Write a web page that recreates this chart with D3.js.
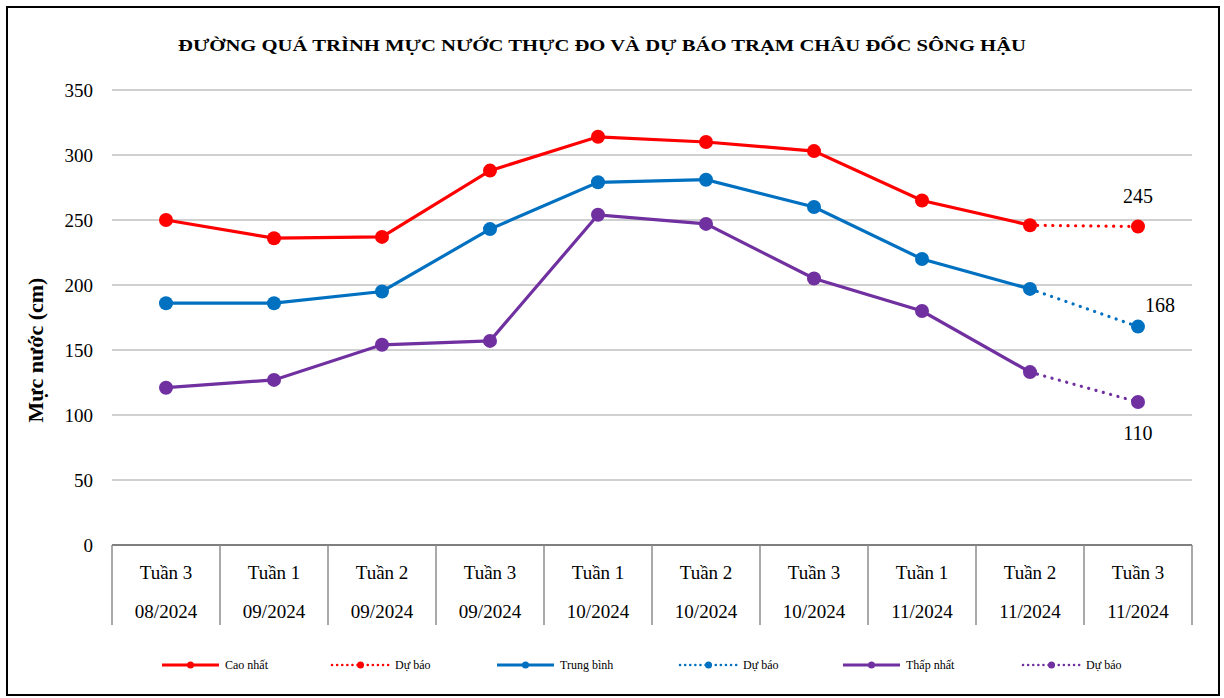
<!DOCTYPE html>
<html>
<head>
<meta charset="utf-8">
<script src="https://cdn.jsdelivr.net/npm/d3@7"></script>
<style>
  body { margin: 0; background: #fff; }
  svg text { font-family: "Liberation Serif", "Times New Roman", serif; fill: #000; }
</style>
</head>
<body>
<div id="chart"></div>
<script>
// data
var weeks = ["Tuần 3", "Tuần 1", "Tuần 2", "Tuần 3", "Tuần 1", "Tuần 2", "Tuần 3", "Tuần 1", "Tuần 2", "Tuần 3"];
var months = ["08/2024", "09/2024", "09/2024", "09/2024", "10/2024", "10/2024", "10/2024", "11/2024", "11/2024", "11/2024"];
var caoNhat = [250, 236, 237, 288, 314, 310, 303, 265, 246];
var trungBinh = [186, 186, 195, 243, 279, 281, 260, 220, 197];
var thapNhat = [121, 127, 154, 157, 254, 247, 205, 180, 133];
var duBaoCao = 245, duBaoTB = 168, duBaoThap = 110;
var yTicks = [0, 50, 100, 150, 200, 250, 300, 350];

(function () {
var W = 1224, H = 698;
var plotLeft = 112, plotRight = 1192, plotTop = 90, plotBottom = 545;

var svg = d3.select("#chart").append("svg")
    .attr("width", W)
    .attr("height", H);

// outer frame
svg.append("rect")
    .attr("x", 7).attr("y", 7)
    .attr("width", 1212).attr("height", 688)
    .attr("fill", "none")
    .attr("stroke", "#000")
    .attr("stroke-width", 2);

var x = d3.scaleBand()
    .domain(d3.range(weeks.length))
    .range([plotLeft, plotRight]);

var y = d3.scaleLinear()
    .domain([0, 350])
    .range([plotBottom, plotTop]);

var cx = function(i) { return x(i) + x.bandwidth() / 2; };

// title
svg.append("text")
    .attr("x", 602)
    .attr("y", 51)
    .attr("text-anchor", "middle")
    .attr("font-weight", "bold")
    .attr("font-size", 17)
    .attr("textLength", 848)
    .attr("lengthAdjust", "spacingAndGlyphs")
    .text("ĐƯỜNG QUÁ TRÌNH MỰC NƯỚC THỰC ĐO VÀ DỰ BÁO TRẠM CHÂU  ĐỐC SÔNG HẬU");

// gridlines
svg.append("g").selectAll("line")
    .data(yTicks.filter(function(d) { return d > 0; }))
    .enter().append("line")
    .attr("x1", plotLeft).attr("x2", plotRight)
    .attr("y1", function(d) { return y(d); })
    .attr("y2", function(d) { return y(d); })
    .attr("stroke", "#c0c0c0")
    .attr("stroke-width", 1.3);

// y tick labels
svg.append("g").selectAll("text")
    .data(yTicks)
    .enter().append("text")
    .attr("x", 93)
    .attr("y", function(d) { return y(d) + 7; })
    .attr("text-anchor", "end")
    .attr("font-size", 19)
    .text(function(d) { return d; });

// y title
svg.append("text")
    .attr("transform", "translate(43,350) rotate(-90)")
    .attr("text-anchor", "middle")
    .attr("font-weight", "bold")
    .attr("font-size", 22)
    .text("Mực nước (cm)");

// category table
var tbl = svg.append("g");
tbl.append("line")
    .attr("x1", plotLeft).attr("x2", plotRight)
    .attr("y1", plotBottom).attr("y2", plotBottom)
    .attr("stroke", "#7f7f7f")
    .attr("stroke-width", 1.8);
tbl.selectAll(".sep")
    .data(d3.range(weeks.length + 1))
    .enter().append("line")
    .attr("class", "sep")
    .attr("x1", function(i) { return plotLeft + i * x.bandwidth(); })
    .attr("x2", function(i) { return plotLeft + i * x.bandwidth(); })
    .attr("y1", plotBottom).attr("y2", 625)
    .attr("stroke", "#8c8c8c")
    .attr("stroke-width", 1.5);
tbl.selectAll(".wk")
    .data(weeks)
    .enter().append("text")
    .attr("x", function(d, i) { return cx(i); })
    .attr("y", 579)
    .attr("text-anchor", "middle")
    .attr("font-size", 19)
    .text(function(d) { return d; });
tbl.selectAll(".mo")
    .data(months)
    .enter().append("text")
    .attr("x", function(d, i) { return cx(i); })
    .attr("y", 618)
    .attr("text-anchor", "middle")
    .attr("font-size", 19)
    .text(function(d) { return d; });

var series = [
    { name: "Cao nhất", color: "#ff0000", values: caoNhat, fc: duBaoCao },
    { name: "Trung bình", color: "#0070c0", values: trungBinh, fc: duBaoTB },
    { name: "Thấp nhất", color: "#7030a0", values: thapNhat, fc: duBaoThap }
];

var line = d3.line()
    .x(function(d) { return cx(d.i); })
    .y(function(d) { return y(d.v); });

series.forEach(function(s) {
    var g = svg.append("g");
    var pts = s.values.map(function(v, i) { return { i: i, v: v }; });
    var last = pts[pts.length - 1];
    var fcPts = [last, { i: pts.length, v: s.fc }];

    g.append("path")
        .attr("d", line(fcPts))
        .attr("fill", "none")
        .attr("stroke", s.color)
        .attr("stroke-width", 3.2)
        .attr("stroke-linecap", "round")
        .attr("stroke-dasharray", "0.1,7.5");

    g.append("path")
        .attr("d", line(pts))
        .attr("fill", "none")
        .attr("stroke", s.color)
        .attr("stroke-width", 3.2);

    g.selectAll("circle")
        .data(pts.concat([fcPts[1]]))
        .enter().append("circle")
        .attr("cx", function(d) { return cx(d.i); })
        .attr("cy", function(d) { return y(d.v); })
        .attr("r", 7)
        .attr("fill", s.color);
});

// forecast value labels
var fcLabels = [
    { v: duBaoCao, dx: 0, dy: -24 },
    { v: duBaoTB, dx: 22, dy: -15 },
    { v: duBaoThap, dx: 0, dy: 38 }
];
svg.append("g").selectAll("text")
    .data(fcLabels)
    .enter().append("text")
    .attr("x", function(d) { return cx(weeks.length - 1) + d.dx; })
    .attr("y", function(d) { return y(d.v) + d.dy; })
    .attr("text-anchor", "middle")
    .attr("font-size", 20)
    .text(function(d) { return d.v; });

// legend
var legendItems = [
    { label: "Cao nhất", color: "#ff0000", dash: false, x: 162 },
    { label: "Dự báo", color: "#ff0000", dash: true, x: 332 },
    { label: "Trung bình", color: "#0070c0", dash: false, x: 497 },
    { label: "Dự báo", color: "#0070c0", dash: true, x: 680 },
    { label: "Thấp nhất", color: "#7030a0", dash: false, x: 843 },
    { label: "Dự báo", color: "#7030a0", dash: true, x: 1023 }
];
var lg = svg.append("g").selectAll("g")
    .data(legendItems)
    .enter().append("g")
    .attr("transform", function(d) { return "translate(" + d.x + ",665)"; });
lg.append("line")
    .attr("x1", 0).attr("x2", 57)
    .attr("y1", 0).attr("y2", 0)
    .attr("stroke", function(d) { return d.color; })
    .attr("stroke-width", function(d) { return d.dash ? 2.5 : 3.2; })
    .attr("stroke-linecap", function(d) { return d.dash ? "round" : "butt"; })
    .attr("stroke-dasharray", function(d) { return d.dash ? "0.1,5" : null; });
lg.append("circle")
    .attr("cx", 28.5).attr("cy", 0)
    .attr("r", 3.5)
    .attr("fill", function(d) { return d.color; });
lg.append("text")
    .attr("x", 63)
    .attr("y", 4)
    .attr("font-size", 12)
    .text(function(d) { return d.label; });
})();
</script>
</body>
</html>
